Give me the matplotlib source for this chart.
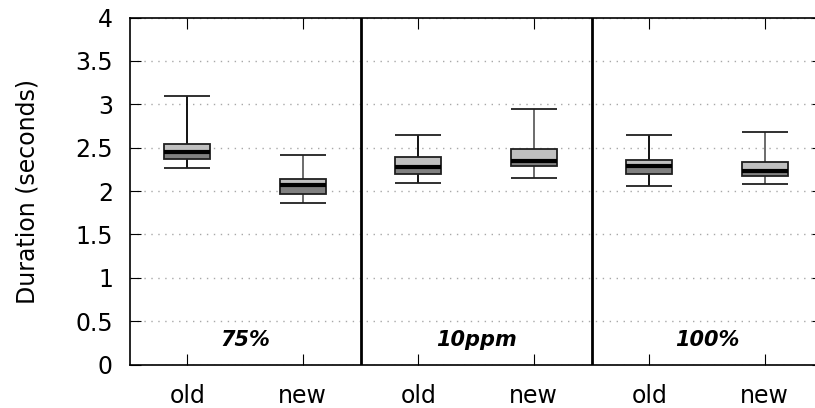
import matplotlib
matplotlib.use('Agg')
import matplotlib.pyplot as plt
import numpy as np

# Dane
groups = ['75%', '10ppm', '100%']
labels = ['old', 'new', 'old', 'new', 'old', 'new']
wlo = [2.26, 1.86, 2.09, 2.155, 2.06, 2.08]
q1 = [2.37, 1.965, 2.195, 2.29, 2.20, 2.17]
med = [2.446, 2.065, 2.28, 2.35, 2.288, 2.23]
q3 = [2.54, 2.14, 2.39, 2.49, 2.357, 2.34]
whi = [3.095, 2.41, 2.645, 2.945, 2.645, 2.68]
whisker_colors = ['black', '#606060', 'black', '#606060', 'black', '#606060']

BOX_W = 0.4

fig = plt.figure(figsize=(8.15, 4.08), dpi=100)
# prawa krawędź osi wychodzi poza obrazek (jak w oryginale)
ax = fig.add_axes([129.5 / 815, 0.1066, 693 / 815, 0.8504])

x = np.arange(1, len(labels) + 1)

# Wąsy
ax.vlines(x, q3, whi, colors=whisker_colors, lw=1.3, zorder=2)
ax.vlines(x, wlo, q1, colors=whisker_colors, lw=1.3, zorder=2)
ax.hlines(whi, x - BOX_W / 2, x + BOX_W / 2, colors='#202020', lw=1.3, zorder=2)
ax.hlines(wlo, x - BOX_W / 2, x + BOX_W / 2, colors='#202020', lw=1.3, zorder=2)

# Pudełka: dolna część ciemniejsza, górna jaśniejsza
ax.bar(x, np.array(med) - np.array(q1), bottom=q1, width=BOX_W,
       color='#808080', edgecolor='none', zorder=3)
ax.bar(x, np.array(q3) - np.array(med), bottom=med, width=BOX_W,
       color='#c0c0c0', edgecolor='none', zorder=3)
ax.bar(x, np.array(q3) - np.array(q1), bottom=q1, width=BOX_W,
       fill=False, edgecolor='#202020', lw=1.3, zorder=4)
ax.hlines(med, x - BOX_W / 2, x + BOX_W / 2, colors='black', lw=3, zorder=5)

# Separatory grup
for sep in [2.5, 4.5]:
    ax.axvline(sep, color='black', lw=2, zorder=6)

for i, g in enumerate(groups):
    ax.text(1.5 + 2 * i, 0.28, g, ha='center', va='center',
            fontsize=15, fontweight='bold', fontstyle='italic')

ax.set_xlim(0.5, 6.5)
ax.set_ylim(0, 4)
ax.set_yticks(np.arange(0, 4.01, 0.5))
ax.set_yticklabels(['0', '0.5', '1', '1.5', '2', '2.5', '3', '3.5', '4'])
ax.set_xticks(x)
ax.set_xticklabels(labels)
ax.yaxis.grid(True, color='#a8a8a8', linestyle=(0, (1, 4)), lw=1)
ax.set_axisbelow(True)

ax.tick_params(axis='both', direction='in', length=8, labelsize=17,
               top=True, right=True)
ax.tick_params(axis='x', pad=14)
ax.tick_params(axis='y', pad=12)
for t, c in zip(ax.xaxis.get_major_ticks(), whisker_colors):
    t.tick1line.set_color(c)
    t.tick2line.set_color(c)

for s in ax.spines.values():
    s.set_linewidth(1.2)

ax.set_ylabel('Duration (seconds)', fontsize=17, labelpad=26)

fig.savefig('out.png', dpi=100)
